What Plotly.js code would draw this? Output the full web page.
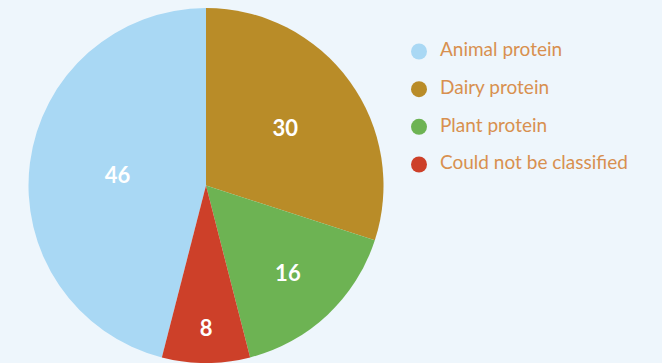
<!DOCTYPE html>
<html>
<head>
<meta charset="utf-8">
<script src="https://cdn.plot.ly/plotly-3.0.1.min.js"></script>
<style>html,body{margin:0;padding:0;background:#eef6fc;}#chart{width:662px;height:363px;}</style>
</head>
<body>
<div id="chart"></div>
<script>
const categories = ["Animal protein", "Dairy protein", "Plant protein", "Could not be classified"];
const shares = [46, 30, 16, 8];
const colors = ["#a9d8f4", "#b98c28", "#6db353", "#cd4029"];

const pie = {
  type: "pie",
  labels: categories,
  values: shares,
  sort: false,
  direction: "clockwise",
  rotation: 194.4,
  marker: {colors: colors, line: {width: 0}},
  textinfo: "value",
  textposition: "inside",
  insidetextorientation: "horizontal",
  textfont: {family: "Lato", size: 22, color: "#ffffff", weight: 700},
  domain: {x: [28.5/662, 383.5/662], y: [0, 355/363]},
  hoverinfo: "label+value",
  showlegend: false
};

const legendMarkers = {
  type: "scatter",
  mode: "markers",
  x: categories.map(() => 0),
  y: categories.map((_, i) => -i),
  marker: {color: colors, size: 16},
  hoverinfo: "skip",
  showlegend: false
};

const legendText = {
  type: "scatter",
  mode: "text",
  x: categories.map(() => 1.05),
  y: categories.map((_, i) => -i),
  text: categories,
  textposition: "middle right",
  textfont: {family: "Lato", size: 19, color: "#d8904f"},
  hoverinfo: "skip",
  showlegend: false
};

const yTop = 1.367;
const layout = {
  width: 662,
  height: 363,
  margin: {l: 0, r: 0, t: 0, b: 0},
  paper_bgcolor: "#eef6fc",
  plot_bgcolor: "rgba(0,0,0,0)",
  showlegend: false,
  xaxis: {domain: [0, 1], range: [-419/20, (662-419)/20], visible: false, fixedrange: true},
  yaxis: {domain: [0, 1], range: [yTop - 9.637, yTop], visible: false, fixedrange: true}
};

Plotly.newPlot("chart", [pie, legendMarkers, legendText], layout, {displayModeBar: false, staticPlot: true});
</script>
</body>
</html>
